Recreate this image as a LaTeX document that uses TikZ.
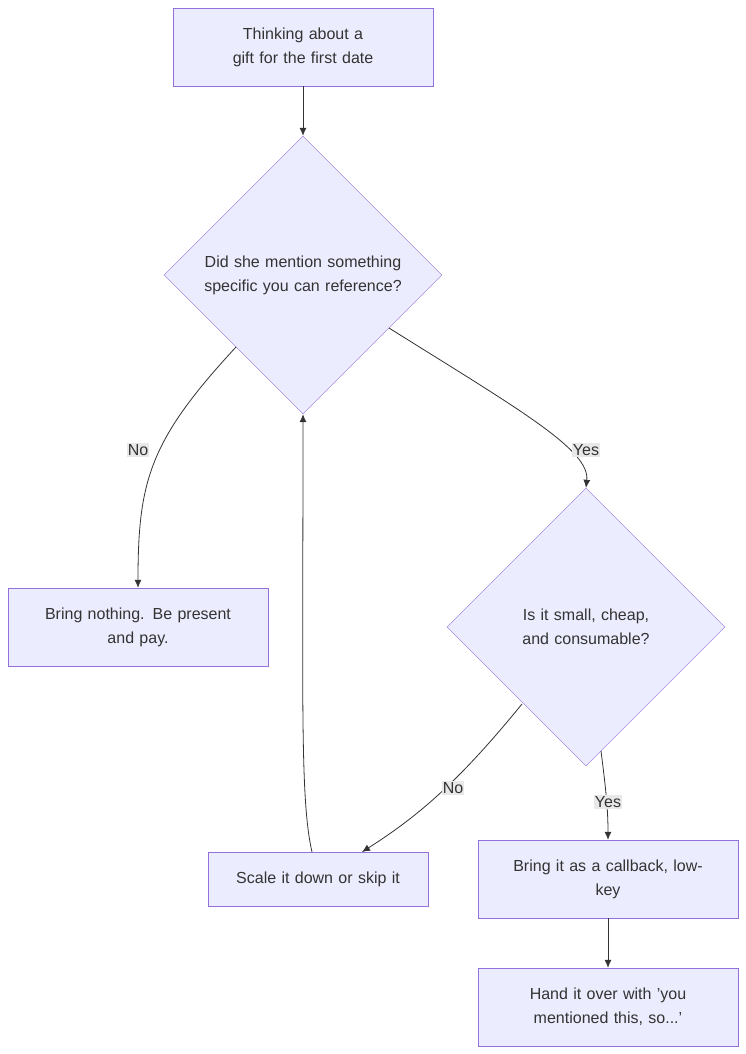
\documentclass[tikz,border=0pt]{standalone}
\usepackage{fontspec}
\setmainfont{Liberation Sans}
\usetikzlibrary{shapes.geometric,arrows.meta}
\definecolor{boxfill}{HTML}{ECECFF}
\definecolor{boxline}{HTML}{9370DB}
\definecolor{ink}{HTML}{333333}
\definecolor{lblbg}{HTML}{E8E8E8}
\tikzset{
  box/.style={draw=boxline,fill=boxfill,text=ink,minimum width=260pt,minimum height=78pt,align=center,text width=230pt,inner sep=0pt,font=\fontsize{16}{24}\selectfont},
  dec/.style={diamond,draw=boxline,fill=boxfill,text=ink,minimum width=278pt,minimum height=278pt,align=center,text width=200pt,inner sep=0pt,font=\fontsize{16}{24}\selectfont},
  lbl/.style={fill=lblbg,text=ink,inner sep=1pt,font=\fontsize{16}{20}\selectfont},
  link/.style={draw=ink,line width=0.8pt,-{Latex[length=8pt,width=7pt]}}
}
\begin{document}
\begin{tikzpicture}[x=1pt,y=-1pt]
\useasboundingbox (0,0) rectangle (746,1054);
\node[box] (gift) at (303,47) {Thinking about a gift for the first date};
\node[dec] (ref) at (303,275) {Did she mention something specific you can reference?};
\node[box] (none) at (138,627) {Bring nothing. Be present\\and pay.};
\node[dec] (small) at (586,627) {Is it small, cheap, and consumable?};
\node[box,minimum width=220pt,minimum height=54pt,text width=200pt] (scale) at (318,879) {Scale it down or skip it};
\node[box] (callback) at (608,879) {Bring it as a callback, low-\\key};
\node[box] (hand) at (608,1007) {Hand it over with 'you\\mentioned this, so...'};
% edges
\draw[link] (gift) -- (ref);
\draw[link] (236,347) .. controls (150,440) and (138,480) .. (none.north);
\draw[link] (389,328) .. controls (520,410) and (590,450) .. (small.north);
\draw[link] (522,704) .. controls (460,780) and (420,815) .. (362,852);
\draw[link] (601,751) .. controls (606,790) and (608,810) .. (callback.north);
\draw[link] (312,852) .. controls (300,800) and (303,700) .. (ref.south);
\draw[link] (callback) -- (hand);
% labels
\node[lbl] (lno) at (138,450) {No};
\node[lbl] (lyes) at (586,450) {Yes};
\node[lbl] (lno2) at (453,788) {No};
\node[lbl] (lyes2) at (608,802) {Yes};
\end{tikzpicture}
\end{document}
